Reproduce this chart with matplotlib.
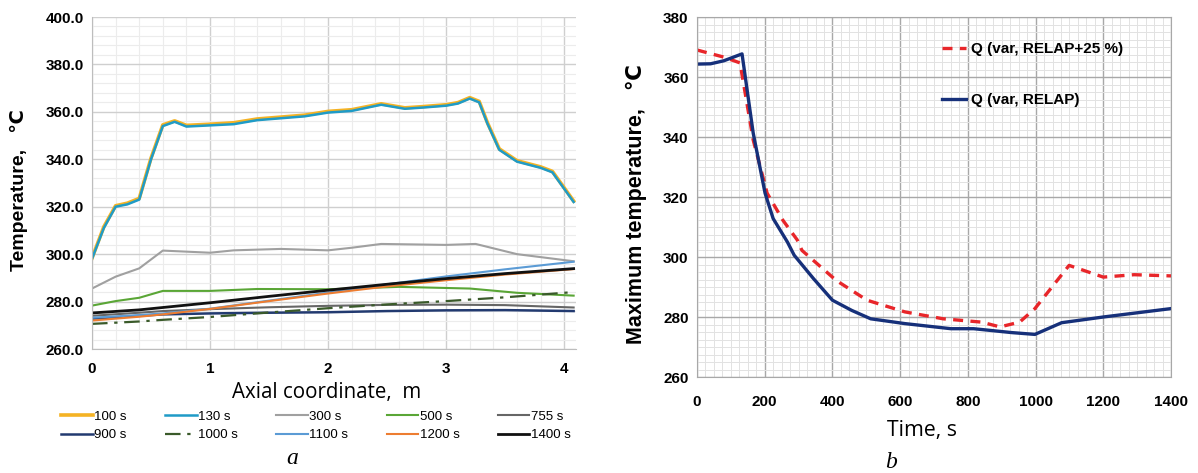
import numpy as np
import matplotlib.pyplot as plt
from matplotlib.ticker import MultipleLocator, FormatStrFormatter

# ---- panel a: temperature along the axial coordinate ----
x_hot = [0, 0.1, 0.2, 0.3, 0.4, 0.5, 0.6, 0.7, 0.8, 1.0, 1.2, 1.4, 1.6, 1.8, 2.0,
         2.2, 2.45, 2.65, 2.8, 3.0, 3.1, 3.2, 3.28, 3.35, 3.45, 3.6, 3.8, 3.9, 4.08]
t_100 = [298.3, 311.5, 320.4, 321.5, 323.5, 340.5, 354.5, 356.2, 354.3, 354.8, 355.4, 357.0,
         357.8, 358.6, 360.2, 360.9, 363.4, 361.7, 362.2, 363.0, 363.9, 366.0, 364.4,
         355.4, 344.4, 339.4, 336.8, 334.9, 322.4]
t_130 = [298.0, 311.0, 320.0, 321.0, 323.0, 340.0, 354.0, 355.8, 353.8, 354.3, 354.8, 356.5,
         357.3, 358.1, 359.7, 360.4, 363.0, 361.3, 361.8, 362.6, 363.5, 365.6, 364.0,
         355.0, 344.0, 339.0, 336.4, 334.5, 322.0]

x_300 = [0, 0.2, 0.4, 0.6, 1.0, 1.2, 1.6, 2.0, 2.2, 2.45, 3.0, 3.25, 3.6, 4.08]
t_300 = [285.5, 290.5, 294.0, 301.5, 300.6, 301.6, 302.2, 301.6, 302.7, 304.3, 303.9, 304.3, 300.0, 297.0]

x_500 = [0, 0.2, 0.4, 0.6, 1.0, 1.4, 2.0, 2.6, 3.2, 3.6, 4.08]
t_500 = [278.3, 280.2, 281.6, 284.5, 284.5, 285.3, 285.2, 286.2, 285.5, 283.7, 282.5]

x_lin = [0, 0.4, 0.6, 1.0, 1.5, 2.0, 2.5, 3.0, 3.5, 4.08]
t_755 = [274.0, 275.3, 276.0, 276.8, 277.6, 278.2, 278.6, 278.7, 278.5, 277.5]
t_900 = [272.8, 274.0, 274.6, 275.0, 275.3, 275.5, 276.0, 276.3, 276.4, 276.0]
t_1000 = [270.6, 271.6, 272.3, 273.5, 275.4, 277.2, 278.8, 280.2, 281.8, 284.0]
t_1100 = [273.2, 274.3, 275.0, 277.0, 280.4, 283.8, 287.3, 290.6, 293.6, 296.8]
t_1200 = [272.0, 273.6, 274.6, 276.9, 280.2, 283.4, 286.4, 289.0, 291.4, 293.7]
t_1400 = [275.2, 276.5, 277.5, 279.5, 282.2, 284.8, 287.3, 289.7, 291.8, 293.9]

# ---- panel b: maximum temperature vs time ----
time_plus = [0, 40, 80, 127, 166, 207, 254, 296, 310, 411, 502, 614, 727, 840, 895,
             953, 998, 1099, 1200, 1291, 1400]
temp_plus = [369.0, 367.8, 366.6, 364.7, 339.0, 321.3, 312.2, 305.7, 302.2, 292.2, 285.6,
             281.7, 279.4, 278.3, 276.7, 278.3, 282.8, 297.2, 293.3, 294.1, 293.7]
time_base = [0, 40, 79, 133, 166, 201, 225, 267, 287, 344, 400, 457, 513, 614, 750, 817,
             930, 998, 1077, 1200, 1400]
temp_base = [364.3, 364.4, 365.4, 367.7, 341.3, 321.3, 312.8, 305.0, 300.6, 292.8, 285.6,
             282.2, 279.4, 277.8, 276.1, 276.1, 274.8, 274.2, 278.1, 280.0, 282.8]

W, H = 1198, 473
fig = plt.figure(figsize=(W / 100, H / 100), dpi=100)

bold_font = dict(family=['Liberation Sans', 'DejaVu Sans'], weight='bold')

# panel a
ax1 = fig.add_axes([92 / W, 1 - 349 / H, 484 / W, 332 / H])
ax1.plot(x_hot, t_100, color='#f5b324', lw=2.6, label='100 s')
ax1.plot(x_hot, t_130, color='#1f9bc7', lw=1.8, label='130 s')
ax1.plot(x_300, t_300, color='#a0a0a0', lw=1.5, label='300 s')
ax1.plot(x_500, t_500, color='#5aa636', lw=1.5, label='500 s')
ax1.plot(x_lin, t_755, color='#666666', lw=1.5, label='755 s')
ax1.plot(x_lin, t_900, color='#223a70', lw=1.8, label='900 s')
ax1.plot(x_lin, t_1000, color='#3a5a2a', lw=1.6, ls=(0, (7, 3, 1.5, 3)), label='1000 s')
ax1.plot(x_lin, t_1100, color='#5b9bd5', lw=1.5, label='1100 s')
ax1.plot(x_lin, t_1200, color='#ed7d31', lw=1.5, label='1200 s')
ax1.plot(x_lin, t_1400, color='#111111', lw=2.0, label='1400 s')

ax1.set_xlim(0, 4.1)
ax1.set_ylim(260, 400)
ax1.xaxis.set_major_locator(MultipleLocator(1))
ax1.xaxis.set_minor_locator(MultipleLocator(0.2))
ax1.yaxis.set_major_locator(MultipleLocator(20))
ax1.yaxis.set_minor_locator(MultipleLocator(4))
ax1.yaxis.set_major_formatter(FormatStrFormatter('%.1f'))
ax1.grid(which='major', color='#cfcfcf', lw=1.0)
ax1.grid(which='minor', color='#ececec', lw=0.8)
ax1.set_axisbelow(True)
for s in ['top', 'right']:
    ax1.spines[s].set_visible(False)
for s in ['left', 'bottom']:
    ax1.spines[s].set_color('#bdbdbd')
ax1.tick_params(axis='x', which='both', length=0, pad=9)
ax1.tick_params(axis='y', which='both', length=0, pad=6)
for lab in ax1.get_xticklabels() + ax1.get_yticklabels():
    lab.set(fontsize=11, **bold_font)
ax1.set_xlabel('Axial coordinate,  m', fontsize=14.8, family='Open Sans', va='center')
ax1.xaxis.set_label_coords((327 - 92) / 484, -(392 - 349) / 332)
ax1.set_ylabel('Temperature,   \u2103', fontsize=14, va='center', **bold_font)
ax1.yaxis.set_label_coords(-(92 - 19) / 484, 0.48)

h1, l1 = ax1.get_legend_handles_labels()
order = [0, 5, 1, 6, 2, 7, 3, 8, 4, 9]
fig.legend([h1[i] for i in order], [l1[i] for i in order], loc='center', ncol=5,
           bbox_to_anchor=(316 / W, 1 - 426 / H), frameon=False,
           prop=dict(family='Liberation Sans', size=9.5), handlelength=2.4,
           handletextpad=0.1, columnspacing=2.9, labelspacing=0.45,
           borderpad=0, borderaxespad=0)
fig.text(292 / W, 1 - 458 / H, 'a', ha='center', va='center', fontsize=17,
         style='italic', family='Liberation Serif')

# panel b
ax2 = fig.add_axes([697 / W, 1 - 377 / H, 474 / W, 360 / H])
ax2.plot(time_plus, temp_plus, color='#e8262a', lw=2.4, ls=(0, (3, 2.2)),
         label='Q (var, RELAP+25 %)')
ax2.plot(time_base, temp_base, color='#16307a', lw=2.4, label='Q (var, RELAP)')
ax2.set_xlim(0, 1400)
ax2.set_ylim(260, 380)
ax2.xaxis.set_major_locator(MultipleLocator(200))
ax2.xaxis.set_minor_locator(MultipleLocator(25))
ax2.yaxis.set_major_locator(MultipleLocator(20))
ax2.yaxis.set_minor_locator(MultipleLocator(2.5))
ax2.grid(which='major', color='#a8a8a8', lw=1.0)
ax2.grid(which='minor', color='#e2e2e2', lw=0.7)
ax2.set_axisbelow(True)
for s in ax2.spines.values():
    s.set_color('#a8a8a8')
ax2.tick_params(axis='x', which='both', length=0, pad=13)
ax2.tick_params(axis='y', which='both', length=0, pad=6)
for lab in ax2.get_xticklabels() + ax2.get_yticklabels():
    lab.set(fontsize=11, **bold_font)
ax2.set_xlabel('Time, s', fontsize=15.3, family='Open Sans', va='center')
ax2.xaxis.set_label_coords((922 - 697) / 474, -(430 - 377) / 360)
ax2.set_ylabel('Maximum temperature,   \u2103', fontsize=15.5, va='center', **bold_font)
ax2.yaxis.set_label_coords(-(697 - 636) / 474, 0.48)
ax2.legend(loc='upper left', bbox_to_anchor=((942 - 697) / 474, (377 - 42) / 360),
           frameon=False, prop=dict(family='Liberation Sans', weight='bold', size=11),
           handlelength=1.6, handletextpad=0.3, labelspacing=2.45,
           borderpad=0, borderaxespad=0)
fig.text(891 / W, 1 - 462 / H, 'b', ha='center', va='center', fontsize=17,
         style='italic', family='Liberation Serif')

fig.savefig('out.png', dpi=100)
